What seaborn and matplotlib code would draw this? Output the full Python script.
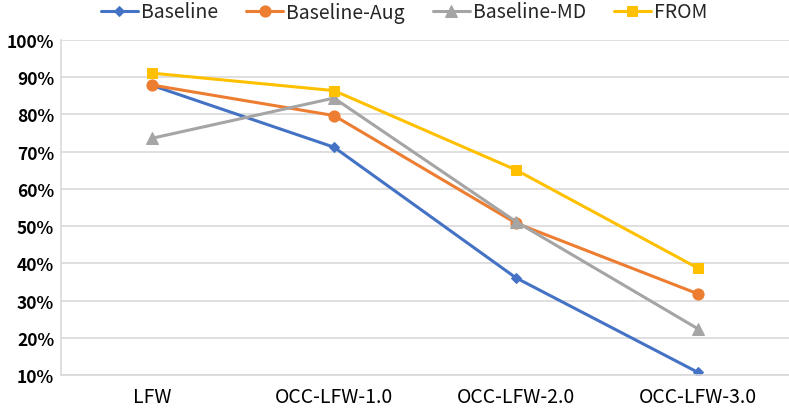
import matplotlib
matplotlib.use("Agg")
import matplotlib.pyplot as plt
import seaborn as sns
import pandas as pd
from matplotlib.ticker import FuncFormatter

categories = ["LFW", "OCC-LFW-1.0", "OCC-LFW-2.0", "OCC-LFW-3.0"]
series_names = ["Baseline", "Baseline-Aug", "Baseline-MD", "FROM"]
baseline = [87.8, 71.2, 36.1, 10.7]
baseline_aug = [87.9, 79.7, 50.8, 31.8]
baseline_md = [73.6, 84.4, 51.2, 22.4]
from_vals = [91.1, 86.4, 65.1, 38.7]
yticks = [10, 20, 30, 40, 50, 60, 70, 80, 90, 100]

colors = ["#4472C4", "#ED7D31", "#A5A5A5", "#FFC000"]
markers = ["D", "o", "^", "s"]
msizes = [5.5, 8, 8.5, 7.5]

rows = []
for name, vals in zip(series_names, [baseline, baseline_aug, baseline_md, from_vals]):
    for c, v in zip(categories, vals):
        rows.append({"cat": c, "val": v, "series": name})
df = pd.DataFrame(rows)

sns.set_theme(style="white")
plt.rcParams['font.family'] = ['Noto Sans CJK SC', 'DejaVu Sans']

fig = plt.figure(figsize=(7.89, 4.10), dpi=100)
ax = fig.add_axes([61/789, 1-376/410, 1-61/789, (376-41)/410])

for i, name in enumerate(series_names):
    sub = df[df.series == name]
    sns.lineplot(data=sub, x="cat", y="val", ax=ax, color=colors[i], marker=markers[i],
                 markersize=msizes[i], markeredgecolor=colors[i], linewidth=2.2,
                 label=name, sort=False)

ax.set_xlim(-0.5, 3.5)
ax.set_ylim(10, 100)
ax.set_yticks(yticks)
ax.yaxis.set_major_formatter(FuncFormatter(lambda v, p: f"{int(v)}%"))
ax.set_xlabel("")
ax.set_ylabel("")
ax.grid(axis="y", color="#D9D9D9", linewidth=1.2)
for s in ["top", "right"]:
    ax.spines[s].set_visible(False)
for s in ["left", "bottom"]:
    ax.spines[s].set_color("#D9D9D9")
    ax.spines[s].set_linewidth(1.2)
ax.tick_params(axis="both", length=0, colors="black")
ax.tick_params(axis="y", labelsize=12.5, pad=5)
ax.tick_params(axis="x", labelsize=14, pad=8)
for lab in ax.get_yticklabels():
    lab.set_fontweight("bold")
for lab in ax.get_xticklabels():
    lab.set_fontweight("medium")

handles, labels = ax.get_legend_handles_labels()
ax.get_legend().remove()
fig.legend(handles, labels, loc="center", bbox_to_anchor=(404/789, 1 - 13/410), ncol=4,
           frameon=False, handlelength=1.9, columnspacing=1.45, handletextpad=0.15,
           prop={"size": 14})
fig.savefig("out.png", dpi=100)
